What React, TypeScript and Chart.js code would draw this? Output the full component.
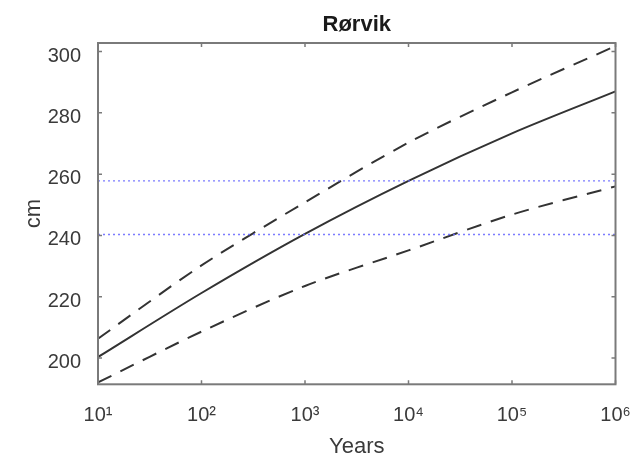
import React, { useEffect, useRef } from "react";
import { Chart, registerables } from "chart.js";

Chart.register(...registerables);

// ---- data ----
const years = [10, 100, 1000, 10000, 100000, 1000000];
const median = [200.3, 221.2, 240.5, 257.8, 273.3, 287.0];
const upper = [206.3, 230.2, 250.8, 270.3, 286.7, 301.8];
const lower = [192.0, 208.6, 223.5, 235.1, 246.8, 256.0];
const levelX = [10, 1000000];
const levels = [240.3, 257.8];
const xTicks = [10, 100, 1000, 10000, 100000, 1000000];
const xTickLabels = ["10¹", "10²", "10³", "10⁴", "10⁵", "10⁶"];
const yTicks = [200, 220, 240, 260, 280, 300];
const yMin = 191.4;
const yMax = 302.8;
const titleText = "Rørvik";
const xTitle = "Years";
const yTitle = "cm";

const FONT = "'Liberation Sans', Arial, Helvetica, sans-serif";

const boxPlugin = {
  id: "matlabBox",
  afterDatasetsDraw(chart: any) {
    const { ctx, chartArea: a, scales } = chart;
    ctx.save();
    ctx.strokeStyle = "#7a7a7a";
    ctx.lineWidth = 2;
    ctx.strokeRect(a.left, a.top, a.right - a.left, a.bottom - a.top);
    ctx.lineWidth = 1.5;
    const tl = 4;
    ctx.beginPath();
    for (const v of xTicks) {
      const px = scales.x.getPixelForValue(v);
      ctx.moveTo(px, a.bottom);
      ctx.lineTo(px, a.bottom - tl);
      ctx.moveTo(px, a.top);
      ctx.lineTo(px, a.top + tl);
    }
    for (const v of yTicks) {
      const py = scales.y.getPixelForValue(v);
      ctx.moveTo(a.left, py);
      ctx.lineTo(a.left + tl, py);
      ctx.moveTo(a.right, py);
      ctx.lineTo(a.right - tl, py);
    }
    ctx.stroke();
    ctx.restore();
  },
};

export default function App() {
  const ref = useRef<HTMLCanvasElement>(null);

  useEffect(() => {
    if (!ref.current) return;
    const pts = (ys: number[]) => years.map((x, i) => ({ x, y: ys[i] }));
    const levelPts = (v: number) => levelX.map((x) => ({ x, y: v }));
    const dotted = {
      borderColor: "rgba(100,100,255,0.85)",
      borderWidth: 1.3,
      borderDash: [2, 3],
      pointRadius: 0,
      fill: false,
    };
    const curve = {
      borderColor: "#333",
      borderWidth: 2,
      pointRadius: 0,
      tension: 0.3,
      fill: false,
    };
    const chart = new Chart(ref.current, {
      type: "line",
      data: {
        datasets: [
          { label: "level 1", data: levelPts(levels[0]), ...dotted },
          { label: "level 2", data: levelPts(levels[1]), ...dotted },
          { label: "upper", data: pts(upper), ...curve, borderDash: [15, 10] },
          { label: "median", data: pts(median), ...curve },
          { label: "lower", data: pts(lower), ...curve, borderDash: [15, 10] },
        ],
      },
      options: {
        animation: false,
        responsive: false,
        maintainAspectRatio: false,
        layout: { padding: { left: 0, right: 19.5, top: 0, bottom: 0 } },
        plugins: {
          legend: { display: false },
          tooltip: { enabled: false },
          title: {
            display: true,
            text: titleText,
            fullSize: false,
            color: "#1a1a1a",
            font: { family: FONT, size: 22, weight: "bold", lineHeight: 1.2 },
            padding: { top: 12, bottom: 4.6 },
          },
        },
        scales: {
          x: {
            type: "logarithmic",
            min: 10,
            max: 1000000,
            grid: { display: false },
            border: { display: false },
            afterBuildTicks: (scale: any) => {
              scale.ticks = xTicks.map((v) => ({ value: v }));
            },
            afterFit: (scale: any) => {
              scale.height = 71.7;
              scale.paddingLeft = 0;
              scale.paddingRight = 0;
            },
            ticks: {
              autoSkip: false,
              maxRotation: 0,
              padding: 11,
              color: "#3a3a3a",
              font: { family: FONT, size: 20, lineHeight: 1.2 },
              callback: (v: any) => {
                const i = xTicks.indexOf(Number(v));
                return i >= 0 ? xTickLabels[i] : "";
              },
            },
            title: {
              display: true,
              text: xTitle,
              color: "#3a3a3a",
              font: { family: FONT, size: 22, lineHeight: 1 },
              padding: { top: 0, bottom: -2 },
            },
          },
          y: {
            type: "linear",
            min: yMin,
            max: yMax,
            grid: { display: false },
            border: { display: false },
            afterBuildTicks: (scale: any) => {
              scale.ticks = yTicks.map((v) => ({ value: v }));
            },
            afterFit: (scale: any) => {
              scale.width = 98;
              scale.paddingTop = 0;
              scale.paddingBottom = 0;
            },
            ticks: {
              padding: 9,
              labelOffset: 4.5,
              color: "#3a3a3a",
              font: { family: FONT, size: 20, lineHeight: 1.2 },
              callback: (v: any) => String(v),
            },
            title: {
              display: true,
              text: yTitle,
              color: "#3a3a3a",
              font: { family: FONT, size: 22, lineHeight: 1.2 },
              padding: { top: 21, bottom: 0 },
            },
          },
        },
      },
      plugins: [boxPlugin],
    } as any);
    return () => chart.destroy();
  }, []);

  return (
    <div style={{ position: "absolute", left: 0, top: 0, width: 635, height: 456, background: "#fff" }}>
      <canvas ref={ref} width={635} height={456} style={{ display: "block" }} />
    </div>
  );
}
